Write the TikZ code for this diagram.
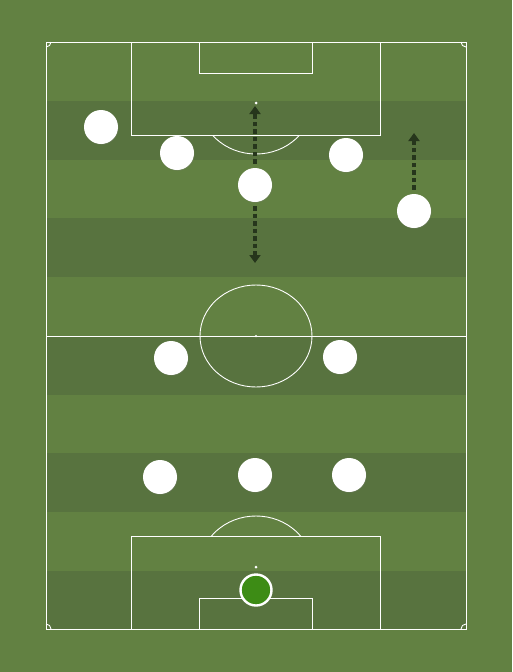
\documentclass[tikz,border=0pt]{standalone}
\usetikzlibrary{arrows.meta,shadows}
\definecolor{bglight}{HTML}{628142}
\definecolor{bgdark}{HTML}{58733F}
\definecolor{arrowc}{HTML}{26361C}
\definecolor{gkgreen}{HTML}{3D8C15}
\begin{document}
\begin{tikzpicture}[x=1pt,y=-1pt,
  pline/.style={draw=white,line width=0.9pt},
  player/.style={circle,fill=white,minimum size=34pt,inner sep=0pt,
     drop shadow={shadow xshift=0.6pt,shadow yshift=-0.8pt,opacity=0.25}},
  keeper/.style={circle,fill=gkgreen,draw=white,line width=2.4pt,minimum size=31pt,inner sep=0pt},
  runarrow/.style={draw=arrowc,line width=3.2pt,dash pattern=on 4.5pt off 3pt,-{Triangle[length=8pt,width=11pt]}},
  spot/.style={circle,fill=white,inner sep=0pt,minimum size=3pt}]
\fill[bglight] (0,0) rectangle (512,672);
\useasboundingbox (0,0) rectangle (512,672);
% stripes
\foreach \y in {101,218.4,335.8,453.2,570.6}
  \fill[bgdark] (46,\y) rectangle (466,\y+58.7);
% pitch
\draw[pline] (46,42) rectangle (466,629);
\draw[pline] (46,336) -- (466,336);
\draw[pline] (256,336) ellipse [x radius=56,y radius=51];
\node[spot,minimum size=2.5pt] (cs) at (256,336) {};
% top
\draw[pline] (131,42) -- (131,135) -- (380,135) -- (380,42);
\draw[pline] (199,42) -- (199,73) -- (312,73) -- (312,42);
\node[spot] (ts) at (256,103) {};
\begin{scope}
\clip (0,135.5) rectangle (512,200);
\draw[pline] (256,103) ellipse [x radius=56,y radius=51];
\end{scope}
% bottom
\draw[pline] (131,629) -- (131,536) -- (380,536) -- (380,629);
\draw[pline] (199,629) -- (199,598) -- (312,598) -- (312,629);
\node[spot] (bs) at (256,567) {};
\begin{scope}
\clip (0,535.5) rectangle (512,480);
\draw[pline] (256,567) ellipse [x radius=56,y radius=51];
\end{scope}
% corners
\draw[pline] (51,42) arc[start angle=0,end angle=90,radius=5];
\draw[pline] (461,42) arc[start angle=180,end angle=90,radius=5];
\draw[pline] (51,629) arc[start angle=0,end angle=-90,radius=5];
\draw[pline] (461,629) arc[start angle=180,end angle=270,radius=5];
% arrow endpoints
\coordinate (a1) at (255,106);
\coordinate (a2) at (255,263);
\coordinate (a3) at (414,133);
% players
\node[player] (p1) at (101,127) {};
\node[player] (p2) at (177,153) {};
\node[player] (p3) at (255,185) {};
\node[player] (p4) at (346,155) {};
\node[player] (p5) at (414,211) {};
\node[player] (p6) at (171,358) {};
\node[player] (p7) at (340,357) {};
\node[player] (p8) at (160,477) {};
\node[player] (p9) at (255,475) {};
\node[player] (p10) at (349,475) {};
\node[keeper] (gk) at (256,590) {};
% runs
\draw[runarrow] ([yshift=4pt]p3.north) -- (a1);
\draw[runarrow] ([yshift=-4pt]p3.south) -- (a2);
\draw[runarrow] ([yshift=4pt]p5.north) -- (a3);
\end{tikzpicture}
\end{document}
